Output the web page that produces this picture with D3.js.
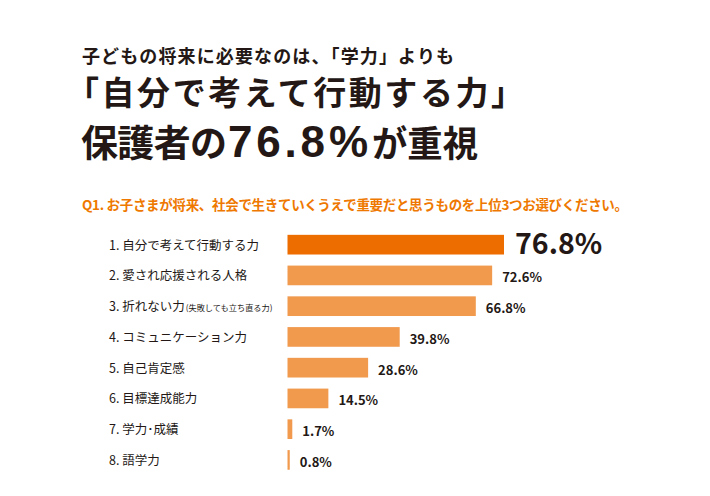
<!DOCTYPE html>
<html>
<head>
<meta charset="utf-8">
<script src="https://cdn.jsdelivr.net/npm/d3@7"></script>
<style>
  html, body { margin: 0; padding: 0; background: #fff; }
  svg { display: block; font-family: "Noto Sans CJK JP", "Noto Sans", sans-serif; }
</style>
</head>
<body>
<div id="chart"></div>
<script>
// data +++++++++++++++++++++++++++++++++++++++++
const ranks = [1, 2, 3, 4, 5, 6, 7, 8];
const items = ["自分で考えて行動する力", "愛され応援される人格", "折れない力", "コミュニケーション力",
  "自己肯定感", "目標達成能力", "学力･成績", "語学力"];
const notes = ["", "", "(失敗しても立ち直る力)", "", "", "", "", ""];
const values = [76.8, 72.6, 66.8, 39.8, 28.6, 14.5, 1.7, 0.8];
// data -----------------------------------------

const width = 710;
const height = 496;
const ink = "#231815";
const orange = "#ee7800";

const svg = d3.select("#chart")
  .append("svg")
  .attr("width", width)
  .attr("height", height);

// Titles
svg.append("text")
  .attr("x", 82).attr("y", 63)
  .attr("font-size", 18).attr("font-weight", 700).attr("fill", ink)
  .attr("textLength", 372).attr("lengthAdjust", "spacing")
  .text("子どもの将来に必要なのは、「学力」よりも");

svg.append("text")
  .attr("x", 66).attr("y", 105)
  .attr("font-size", 33).attr("font-weight", 700).attr("fill", ink)
  .attr("textLength", 458).attr("lengthAdjust", "spacing")
  .text("「自分で考えて行動する力」");

svg.append("text")
  .attr("x", 81).attr("y", 157)
  .attr("font-size", 37).attr("font-weight", 700).attr("fill", ink)
  .attr("textLength", 146).attr("lengthAdjust", "spacing")
  .text("保護者の");

// headline figure: Liberation Sans keeps its box clear of the line above
svg.append("text")
  .attr("x", 228).attr("y", 157)
  .attr("font-family", "'Liberation Sans', Arial, sans-serif")
  .attr("font-size", 44).attr("font-weight", 700).attr("fill", ink)
  .attr("textLength", 140).attr("lengthAdjust", "spacing")
  .text("76.8%");

svg.append("text")
  .attr("x", 372).attr("y", 157)
  .attr("font-size", 36).attr("font-weight", 700).attr("fill", ink)
  .attr("textLength", 106).attr("lengthAdjust", "spacingAndGlyphs")
  .text("が重視");

svg.append("text")
  .attr("x", 82).attr("y", 210)
  .attr("font-size", 13.5).attr("font-weight", 700).attr("fill", orange)
  .attr("textLength", 546).attr("lengthAdjust", "spacing")
  .text("Q1. お子さまが将来、社会で生きていくうえで重要だと思うものを上位3つお選びください。");

// Bars
const rows = items.map((d, i) => ({ rank: ranks[i], item: d, note: notes[i], value: values[i] }));

const x = d3.scaleLinear()
  .domain([0, d3.max(values)])
  .range([287.5, 504]);

const y = d3.scaleBand()
  .domain(ranks)
  .range([229.3, 475.3])
  .paddingInner(0.36)
  .paddingOuter(0.18);

const rowGroup = svg.append("g").attr("class", "rows");

rowGroup.selectAll("rect")
  .data(rows)
  .enter()
  .append("rect")
  .attr("x", x(0))
  .attr("y", d => y(d.rank))
  .attr("width", d => x(d.value) - x(0))
  .attr("height", y.bandwidth())
  .attr("fill", (d, i) => i === 0 ? "#ed6d00" : "#f19a4e");

// Category labels
const labels = rowGroup.selectAll("text.cat")
  .data(rows)
  .enter()
  .append("text")
  .attr("class", "cat")
  .attr("x", 109)
  .attr("y", d => y(d.rank) + y.bandwidth() / 2 + 5)
  .attr("font-size", 12.5)
  .attr("fill", ink);

labels.append("tspan").text(d => `${d.rank}. ${d.item}`);
labels.filter(d => d.note)
  .append("tspan")
  .attr("font-size", 8.2)
  .attr("dx", 1)
  .text(d => d.note);

// Value labels
rowGroup.selectAll("text.val")
  .data(rows)
  .enter()
  .append("text")
  .attr("class", "val")
  .attr("x", (d, i) => x(d.value) + (i === 0 ? 11 : 10))
  .attr("y", (d, i) => y(d.rank) + y.bandwidth() / 2 + (i === 0 ? 9.5 : 7))
  .attr("font-size", (d, i) => i === 0 ? 28.5 : 13)
  .attr("font-weight", 700)
  .attr("fill", ink)
  .text(d => `${d.value.toFixed(1)}%`);
</script>
</body>
</html>
